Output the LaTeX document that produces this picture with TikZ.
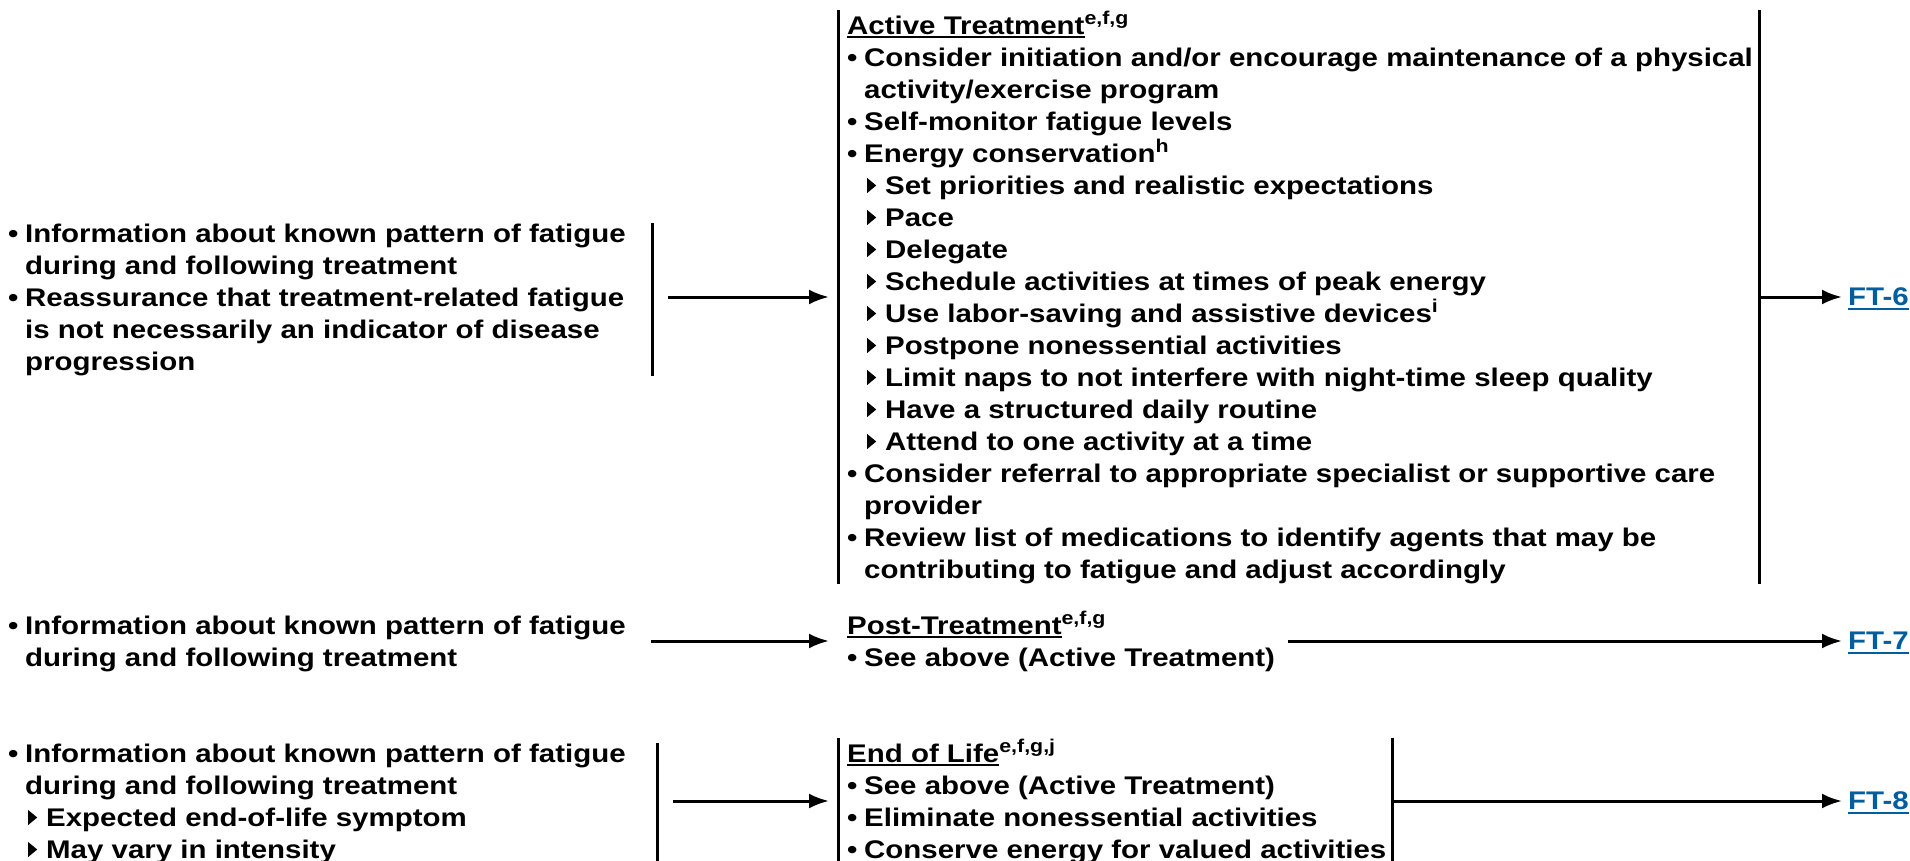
\documentclass[tikz,border=0pt]{standalone}
\usepackage{fontspec}
\setmainfont{Liberation Sans}[FakeStretch=1.155]
\usetikzlibrary{arrows.meta,positioning}

\definecolor{ftblue}{RGB}{0,94,160}

\newcommand{\ulin}[1]{\setbox0\hbox{#1}\rlap{\smash{\rule[-4pt]{\wd0}{2pt}}}\box0}
\newcommand{\sups}[1]{\raisebox{10pt}{\fontsize{18.5}{18.5}\selectfont #1}}
\newcommand{\bitem}{\makebox[17pt][l]{•}}
\newcommand{\bcont}{\hspace*{17pt}}
\newcommand{\tmark}{\tikz[baseline=0pt]\fill (0pt,1pt) -- (0pt,16pt) -- (9pt,8.5pt) -- cycle;}
\newcommand{\titem}{\hspace*{20pt}\makebox[18pt][l]{\tmark}}

\begin{document}
\begin{tikzpicture}[
        x=1pt, y=-1pt, % пиксели, ось y вниз
        txt/.style={font=\fontsize{25.5}{32}\selectfont\bfseries, align=left, inner sep=0pt, anchor=base west}, % base = последняя строка
        plan/.style={txt, inner xsep=9pt}, % блок справа от черты
        ftref/.style={font=\fontsize{25.5}{32}\selectfont\bfseries, text=ftblue, inner xsep=6pt, inner ysep=0pt},
        bar/.style={line width=3pt},
        pil/.style={line width=3pt, -{Latex[length=20pt,width=15pt]}},
    ]
    \useasboundingbox (0,0) rectangle (1910,861);

    % черты и концы стрелок
    \coordinate (l1r) at (652,297);
    \coordinate (a1r) at (1759,297);
    \coordinate (l2r) at (651,641);
    \coordinate (p2r) at (1288,641);
    \coordinate (l3r) at (657,801);
    \coordinate (e3r) at (1392,801);

    \node[txt] (l1) at (8,370) {\bitem Information about known pattern of fatigue\\
        \bcont during and following treatment\\
        \bitem Reassurance that treatment-related fatigue\\
        \bcont is not necessarily an indicator of disease\\
        \bcont progression};
    \node[plan] (a1) at (838,578) {\ulin{Active Treatment}\sups{e,f,g}\\
        \bitem Consider initiation and/or encourage maintenance of a physical\\
        \bcont activity/exercise program\\
        \bitem Self-monitor fatigue levels\\
        \bitem Energy conservation\sups{h}\\
        \titem Set priorities and realistic expectations\\
        \titem Pace\\
        \titem Delegate\\
        \titem Schedule activities at times of peak energy\\
        \titem Use labor-saving and assistive devices\sups{i}\\
        \titem Postpone nonessential activities\\
        \titem Limit naps to not interfere with night-time sleep quality\\
        \titem Have a structured daily routine\\
        \titem Attend to one activity at a time\\
        \bitem Consider referral to appropriate specialist or supportive care\\
        \bcont provider\\
        \bitem Review list of medications to identify agents that may be\\
        \bcont contributing to fatigue and adjust accordingly};
    \node[ftref, right=83pt of a1r] (ft6) {\ulin{FT-6}};

    \node[txt] (l2) at (8,666) {\bitem Information about known pattern of fatigue\\
        \bcont during and following treatment};
    \node[plan] (p2) at (838,666) {\ulin{Post-Treatment}\sups{e,f,g}\\
        \bitem See above (Active Treatment)};
    \node[ftref, right=554pt of p2r] (ft7) {\ulin{FT-7}};

    \node[txt] (l3) at (8,858) {\bitem Information about known pattern of fatigue\\
        \bcont during and following treatment\\
        \titem Expected end-of-life symptom\\
        \titem May vary in intensity};
    \node[plan] (e3) at (838,858) {\ulin{End of Life}\sups{e,f,g,j}\\
        \bitem See above (Active Treatment)\\
        \bitem Eliminate nonessential activities\\
        \bitem Conserve energy for valued activities};
    \node[ftref, right=450pt of e3r] (ft8) {\ulin{FT-8}};

    \draw[bar] (l1r |- l1.north) -- (l1r |- l1.south);
    \draw[bar] (a1.north west) -- (a1.south west);
    \draw[bar] (a1r |- a1.north) -- (a1r |- a1.south);
    \draw[bar] (l3r |- l3.north) -- (l3r |- l3.south);
    \draw[bar] (e3.north west) -- (e3.south west);
    \draw[bar] (e3r |- e3.north) -- (e3r |- e3.south);

    \draw[pil, shorten <=16pt, shorten >=9pt] (l1r) -- (l1r -| a1.west);
    \draw[pil] (a1r) -- (ft6);
    \draw[pil, shorten >=9pt] (l2r) -- (l2r -| p2.west);
    \draw[pil] (p2r) -- (ft7);
    \draw[pil, shorten <=16pt, shorten >=9pt] (l3r) -- (l3r -| e3.west);
    \draw[pil] (e3r) -- (ft8);
\end{tikzpicture}
\end{document}
